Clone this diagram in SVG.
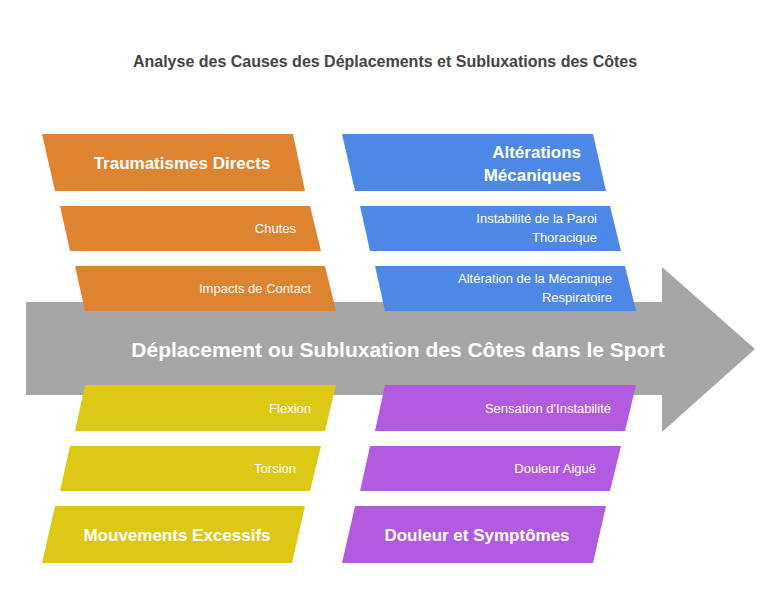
<svg xmlns="http://www.w3.org/2000/svg" width="782" height="614" viewBox="0 0 782 614">
<style>
text{font-family:"Liberation Sans",Arial,sans-serif;fill:#fff}
.t{font-size:16px;font-weight:bold;fill:#444}
.h{font-size:17px;font-weight:bold}
.s{font-size:13px}
.m{font-size:21px;font-weight:bold}
.o{fill:#DE8431}.b{fill:#4E88E6}.y{fill:#DEC816}.p{fill:#B35BE0}
</style>
<rect width="782" height="614" fill="#fff"/>
<text class="t" x="385" y="67" text-anchor="middle">Analyse des Causes des Déplacements et Subluxations des Côtes</text>
<g id="connectors">
<polygon points="26,302 662,302 662,267 755,349 662,432 662,395 26,395" fill="#A6A6A6"/>
</g>
<g id="main"><text class="m" x="398" y="357" text-anchor="middle">Déplacement ou Subluxation des Côtes dans le Sport</text></g>
<g id="traumatismes"><polygon class="o" points="42,134 293,134 305,191 55,191"/><text class="h" x="182" y="169" text-anchor="middle">Traumatismes Directs</text></g>
<g id="chutes"><polygon class="o" points="60,206 310,206 321,251 70,251"/><text class="s" x="296" y="233" text-anchor="end">Chutes</text></g>
<g id="impacts"><polygon class="o" points="75,266 325,266 336,311 85,311"/><text class="s" x="311" y="293" text-anchor="end">Impacts de Contact</text></g>
<g id="alterations"><polygon class="b" points="342,134 593,134 606,191 355,191"/><text class="h" x="581" y="158" text-anchor="end">Altérations</text><text class="h" x="581" y="181" text-anchor="end">Mécaniques</text></g>
<g id="instabilite"><polygon class="b" points="360,206 610,206 621,251 370,251"/><text class="s" x="597" y="223" text-anchor="end">Instabilité de la Paroi</text><text class="s" x="597" y="242" text-anchor="end">Thoracique</text></g>
<g id="respiratoire"><polygon class="b" points="375,266 625,266 636,311 385,311"/><text class="s" x="612" y="283" text-anchor="end">Altération de la Mécanique</text><text class="s" x="612" y="302" text-anchor="end">Respiratoire</text></g>
<g id="flexion"><polygon class="y" points="85,385 336,385 325,431 75,431"/><text class="s" x="311" y="413" text-anchor="end">Flexion</text></g>
<g id="torsion"><polygon class="y" points="70,446 321,446 310,491 60,491"/><text class="s" x="296" y="473" text-anchor="end">Torsion</text></g>
<g id="mouvements"><polygon class="y" points="55,506 305,506 292,563 42,563"/><text class="h" x="177" y="541" text-anchor="middle">Mouvements Excessifs</text></g>
<g id="sensation"><polygon class="p" points="385,385 636,385 625,431 375,431"/><text class="s" x="611" y="413" text-anchor="end">Sensation d'Instabilité</text></g>
<g id="aigue"><polygon class="p" points="370,446 621,446 610,491 360,491"/><text class="s" x="596" y="473" text-anchor="end">Douleur Aiguë</text></g>
<g id="douleur"><polygon class="p" points="355,506 606,506 593,563 342,563"/><text class="h" x="477" y="541" text-anchor="middle">Douleur et Symptômes</text></g>
</svg>
